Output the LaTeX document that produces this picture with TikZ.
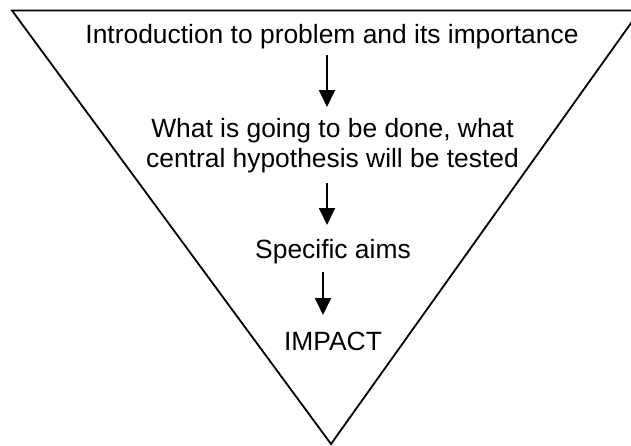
\documentclass[tikz,border=0pt]{standalone}
\usepackage{fontspec}
\setmainfont{Liberation Sans}
\usetikzlibrary{arrows.meta,calc}
\begin{document}
\begin{tikzpicture}[x=1pt,y=-1pt,
  funnel/.style={draw=black,line width=1.8pt,line join=miter},
  label/.style={inner sep=0pt,anchor=base,font=\fontsize{26.4}{30}\selectfont},
  flow/.style={line width=1.8pt,-{Triangle[length=17pt,width=16pt]}}]
  \useasboundingbox (0,0) rectangle (631,445);
  % inverted triangle
  \draw[funnel] (12,10.5) -- (640,10.5) -- (331,444) -- cycle;
  % texts (base anchor of a two-line node sits on its last line)
  \node[label] (intro) at (332,43) {Introduction to problem and its importance};
  \node[label,align=center] (plan) at (332.5,167) {What is going to be done, what\\central hypothesis will be tested};
  \node[label] (aims) at (333,258) {Specific aims};
  \node[label] (impact) at (333,350) {IMPACT};
  % arrows, measured from the baselines of the texts
  \draw[flow] ($(intro.base)+(-5,12)$) -- ($(plan.base)+(-5.5,-60)$);
  \draw[flow] ($(plan.base)+(-5.5,16)$) -- ($(aims.base)+(-6,-33)$);
  \draw[flow] ($(aims.base)+(-10,14)$) -- ($(impact.base)+(-10,-35)$);
\end{tikzpicture}
\end{document}
